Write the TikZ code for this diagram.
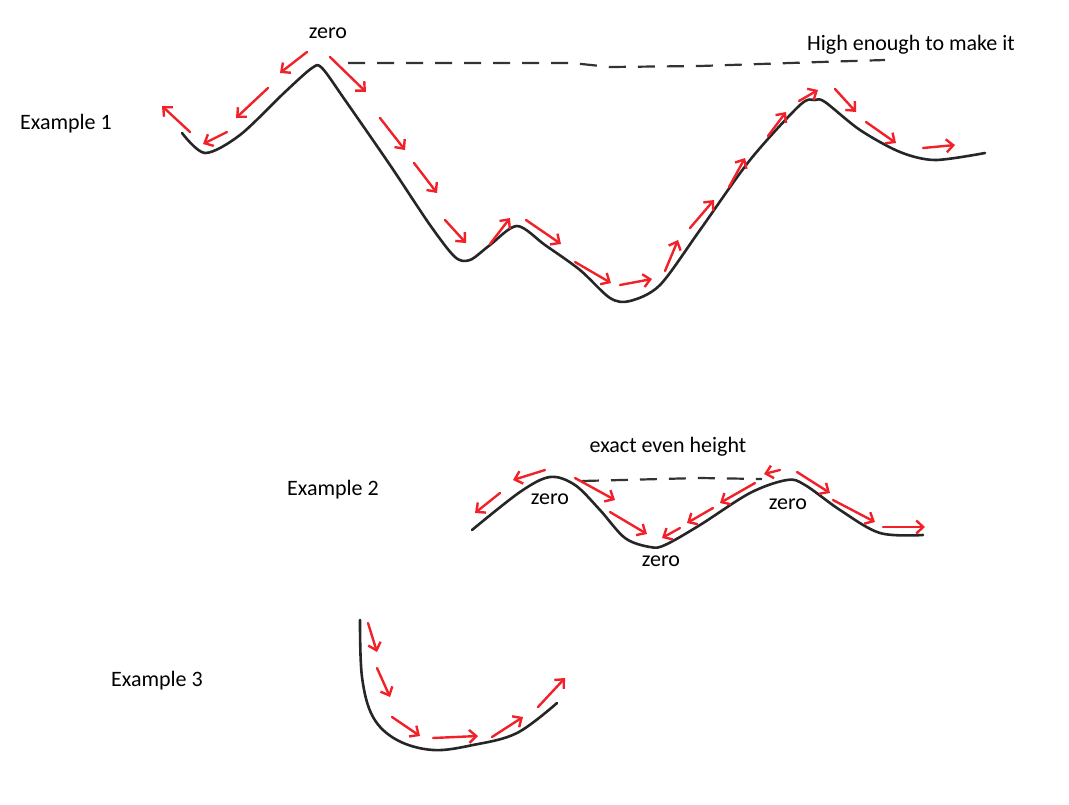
\documentclass[tikz,border=0pt]{standalone}
\usepackage{fontspec}
\setmainfont{Carlito}
\usetikzlibrary{arrows.meta}
\definecolor{pen}{RGB}{242,32,40}
\tikzset{
  track/.style={line width=2.6pt, black!85, line cap=round, line join=round},
  flow/.style={line width=2.4pt, pen, line cap=round, -{Straight Barb[length=7pt,width=13pt,line width=2.4pt]}},
  level/.style={line width=2.2pt, black!80, dash pattern=on 17pt off 12pt},
  lbl/.style={font=\fontsize{22}{26}\selectfont, inner sep=0pt}
}
\begin{document}
\begin{tikzpicture}[x=1pt,y=-1pt]
\useasboundingbox (0,0) rectangle (1069,804);

% labels
\node[lbl] (ex1) at (66,124) {Example 1};
\node[lbl] (ex2) at (333,490) {Example 2};
\node[lbl] (ex3) at (157,681) {Example 3};
\node[lbl] (top) at (328,33) {zero};
\node[lbl] (high) at (911,45) {High enough to make it};
\node[lbl] (even) at (668,447) {exact even height};
\node[lbl] (zl) at (550,499) {zero};
\node[lbl] (zm) at (661,561) {zero};
\node[lbl] (zr) at (788,504) {zero};

% example 1
\draw[track] plot[smooth, tension=0.5] coordinates {
  (182,133) (205,153) (240,135) (285,92) (312,68) (322,68) (345,100)
  (390,165) (430,225) (455,257) (470,260) (490,245) (517,226)
  (545,245) (580,270) (610,298) (630,301) (660,285) (700,230)
  (750,160) (800,105) (815,100) (825,102) (860,130) (900,152)
  (935,160) (985,153)};
\draw[level] (348,63) -- (572,63) -- (610,67) -- (700,66) -- (820,62) -- (885,60);
\foreach \xa/\ya/\xb/\yb in {307/52/280/73, 268/88/236/118, 227/132/203/144, 190/132/162/106,
  330/57/366/92, 380/118/405/150, 414/163/437/193, 445/220/466/243,
  490/244/510/218, 526/220/561/244, 575/262/611/283, 620/285/652/279,
  665/271/678/240, 690/228/714/200, 729/187/745/158, 768/136/786/112,
  799/101/818/90, 835/89/856/112, 866/122/896/143, 923/148/955/145}
  \draw[flow] (\xa,\ya) -- (\xb,\yb);

% example 2
\draw[track] plot[smooth, tension=0.55] coordinates {
  (472,530) (520,492) (550,477) (575,485) (600,510) (625,538)
  (650,547) (665,545) (700,525) (750,493) (787,480) (805,485)
  (840,510) (880,533) (923,535)};
\draw[level] (582,481) -- (700,478) -- (762,479);
\foreach \xa/\ya/\xb/\yb in {545/470/513/480, 500/493/475/513, 575/478/615/500,
  610/512/647/534, 780/470/764/474, 755/483/720/503, 713/508/687/523,
  680/528/662/538, 797/472/830/493, 833/500/875/522, 883/527/925/527}
  \draw[flow] (\xa,\ya) -- (\xb,\yb);

% example 3
\draw[track] plot[smooth, tension=0.6] coordinates {
  (360,620) (362,677) (373,717) (397,740) (433,750) (473,745)
  (517,733) (557,703)};
\foreach \xa/\ya/\xb/\yb in {368/623/377/652, 377/668/390/697, 392/717/420/736,
  433/738/478/736, 492/737/523/717, 538/707/565/678}
  \draw[flow] (\xa,\ya) -- (\xb,\yb);
\end{tikzpicture}
\end{document}
